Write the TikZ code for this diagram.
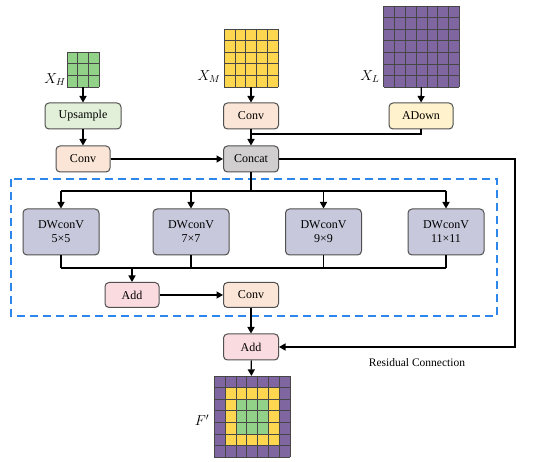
\documentclass[tikz,border=0pt]{standalone}
\usepackage{fontspec}
\setmainfont{Liberation Serif}
\usetikzlibrary{calc,positioning,arrows.meta}
\definecolor{upgreen}{RGB}{226,240,217}
\definecolor{convorange}{RGB}{251,229,214}
\definecolor{adownyellow}{RGB}{255,242,204}
\definecolor{concatgray}{RGB}{208,206,206}
\definecolor{dwgray}{RGB}{200,200,220}
\definecolor{addpink}{RGB}{250,219,224}
\definecolor{cellgreen}{RGB}{146,210,136}
\definecolor{cellyellow}{RGB}{255,214,80}
\definecolor{cellpurple}{RGB}{128,102,160}
\definecolor{boxblue}{RGB}{45,135,235}
\definecolor{edgegray}{RGB}{80,80,80}

\tikzset{
  blk/.style={draw=edgegray, line width=1pt, rounded corners=4pt, inner sep=0pt,
    minimum height=26pt, font=\fontsize{12}{14}\selectfont, align=center},
  dwblk/.style={blk, fill=dwgray, minimum width=76pt, minimum height=46pt},
  fmap/.style={inner sep=0pt, outer sep=0pt},
  cellline/.style={draw=black!72, line width=0.6pt},
  arr/.style={line width=1.3pt, -{Triangle[length=6.5pt,width=7pt]}},
  ln/.style={line width=1.3pt},
  maplab/.style={font=\fontsize{14.5}{16}\selectfont}
}
% grid lines of an n x n feature map node
\newcommand{\mapgrid}[2]{%
  \foreach \k in {0,...,#2}{
    \draw[cellline] ($(#1.north west)+(\k*10.8,0)$) -- ($(#1.south west)+(\k*10.8,0)$);
    \draw[cellline] ($(#1.north west)+(0,\k*11.6)$) -- ($(#1.north east)+(0,\k*11.6)$);
  }}

\begin{document}
\begin{tikzpicture}[x=1pt, y=-1pt]
  \useasboundingbox (0,0) rectangle (550,462);

  % input feature maps
  \node[fmap, fill=cellgreen, minimum width=32.4pt, minimum height=34.8pt] (xh) at (83,69.5) {};
  \node[fmap, fill=cellyellow, minimum width=54pt, minimum height=58pt] (xm) at (251,58) {};
  \node[fmap, fill=cellpurple, minimum width=75.6pt, minimum height=81.2pt] (xl) at (421.5,46.5) {};
  \mapgrid{xh}{3}
  \mapgrid{xm}{5}
  \mapgrid{xl}{7}
  \node[maplab] (lh) at (55,80) {$X_H$};
  \node[maplab] (lm) at (209,77) {$X_M$};
  \node[maplab] (ll) at (370,77) {$X_L$};

  % top row of blocks
  \node[blk, fill=upgreen, minimum width=76pt] (up) at (83,116) {Upsample};
  \node[blk, fill=convorange, minimum width=55pt] (convm) at (251,116) {Conv};
  \node[blk, fill=adownyellow, minimum width=64pt] (adown) at (421,116) {ADown};
  \node[blk, fill=convorange, minimum width=54pt] (convh) at (83,159) {Conv};
  \node[blk, fill=concatgray, minimum width=55pt] (concat) at (251,159) {Concat};

  \draw[arr] (xh) -- (up);
  \draw[arr] (up) -- (convh);
  \draw[arr] (xm) -- (convm);
  \draw[arr] (xl) -- (adown);
  \draw[arr] (convm) -- (concat);
  \coordinate (join) at (251,134);
  \draw[ln] (adown.south) |- (join);
  \draw[arr] (convh) -- (concat);

  % multi-kernel block
  \draw[boxblue, line width=1.2pt, dash pattern=on 8pt off 5pt] (11,179) rectangle (497,316);
  \node[dwblk] (dw1) at (61,232) {DWconV\\5×5};
  \node[dwblk] (dw2) at (191,232) {DWconV\\7×7};
  \node[dwblk] (dw3) at (323.5,232) {DWconV\\9×9};
  \node[dwblk] (dw4) at (446,232) {DWconV\\11×11};
  \coordinate (split) at (251,191);
  \coordinate (merge) at (132,268);
  \draw[ln] (concat.south) -- (split);
  \draw[ln] (dw1.north |- split) -- (dw4.north |- split);
  \foreach \d in {dw1,dw2,dw3,dw4}{
    \draw[arr] (\d.north |- split) -- (\d.north);
    \draw[ln] (\d.south) -- (\d.south |- merge);
  }
  \draw[ln] (dw1.south |- merge) -- (dw4.south |- merge);

  \node[blk, fill=addpink, minimum width=54pt, minimum height=25pt] (add1) at (132,295) {Add};
  \node[blk, fill=convorange, minimum width=55pt, minimum height=25pt] (conv2) at (251,295) {Conv};
  \draw[arr] (merge) -- (add1);
  \draw[arr] (add1) -- (conv2);

  % residual and output
  \node[blk, fill=addpink, minimum width=55pt] (add2) at (251,347) {Add};
  \draw[arr] (conv2) -- (add2);
  \coordinate (rescorner) at (515,159);
  \draw[arr] (concat.east) -- (rescorner) |- (add2.east);
  \node[font=\fontsize{11.5}{14}\selectfont] (reslab) at (417,363) {Residual Connection};

  \node[fmap, fill=cellpurple, minimum width=75.6pt, minimum height=81.2pt] (fout) at (252,416.5) {};
  \fill[cellyellow] ($(fout.north west)+(10.8,11.6)$) rectangle ($(fout.south east)+(-10.8,-11.6)$);
  \fill[cellgreen] ($(fout.north west)+(21.6,23.2)$) rectangle ($(fout.south east)+(-21.6,-23.2)$);
  \mapgrid{fout}{7}
  \node[maplab] (lf) at (202,420) {$F'$};
  \draw[arr] (add2) -- (fout);
\end{tikzpicture}
\end{document}
